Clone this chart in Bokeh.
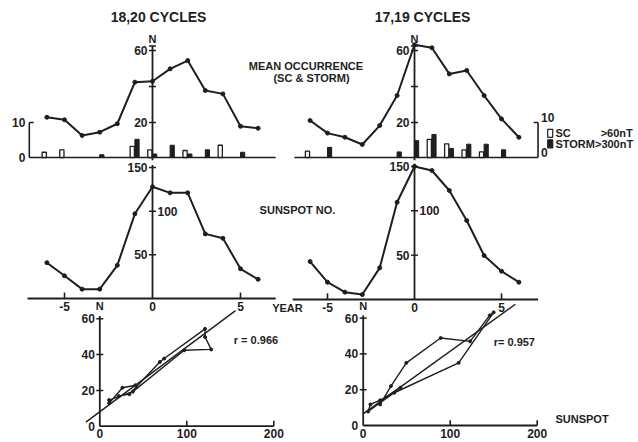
import numpy as np
from bokeh.plotting import figure
from bokeh.models import Range1d, Label
from bokeh.embed import file_html
from bokeh.resources import INLINE
from bokeh.core.properties import value

W, H = 638, 442
INK = "#1e1e1e"
FONT_NAME = "Liberation Sans"
FONT = value(FONT_NAME)

# ---------------- data ----------------
years = [-6, -5, -4, -3, -2, -1, 0, 1, 2, 3, 4, 5, 6]

# 18,20 cycles
n_1820 = [22.9, 21.5, 12.8, 14.6, 19.3, 42.4, 42.9, 49.8, 54.4, 37.8, 35.9, 17.9, 16.8]
ssn_1820 = [41, 26, 10.7, 10.7, 38, 97, 128, 121, 121, 74, 69, 34, 22]
sc_1820 = [1.5, 2.2, 0, 0, 0, 3.2, 2.2, 0, 2.0, 0, 3.5, 0, 0]
storm_1820 = [0, 0, 0, 0.8, 0, 5.2, 1.0, 3.5, 1.0, 2.2, 0, 1.5, 0]
reg_1820 = [0.362, 8.1]      # slope, intercept of the drawn regression line

# 17,19 cycles
n_1719 = [21.1, 14.1, 11.8, 7.8, 18.3, 35.0, 63.2, 61.5, 47.0, 48.9, 35.0, 22.0, 11.8]
ssn_1719 = [42.8, 19.5, 8.3, 5.6, 35.7, 109.7, 150, 145.4, 122.9, 89, 49.6, 31.9, 19.5]
sc_1719 = [1.8, 0, 0, 0, 0, 0, 0, 5.2, 3.9, 2.2, 1.6, 0, 0]
storm_1719 = [0, 2.9, 0, 0, 0, 1.6, 4.8, 6.6, 2.6, 3.8, 3.8, 2.2, 0]
reg_1719 = [0.35, 6.5]

titles = ["18,20 CYCLES", "17,19 CYCLES"]
r_labels = ["r = 0.966", "r= 0.957"]

n_ticks = [20, 40, 60]
n_tick_labels = ["20", "", "60"]
ssn_ticks = [50, 100, 150]
ssn_tick_side = ["left", "right", "left"]
year_ticks = [-5, 0, 5]
bar_ticks = [0, 10]
sc_x_ticks = [0, 100, 200]
sc_y_ticks = [0, 20, 40, 60]

# ---------------- figure ----------------
p = figure(width=W, height=H, x_range=Range1d(0, W), y_range=Range1d(0, H),
           x_axis_type=None, y_axis_type=None, toolbar_location=None,
           output_backend="svg", min_border=0, outline_line_color=None,
           background_fill_color="white", border_fill_color="white")


def xr(a, b):
    return Range1d(start=-a / b, end=(W - a) / b)


def yr(a, b):
    return Range1d(start=(a - H) / b, end=a / b)


p.extra_x_ranges = {
    "yrL": xr(152, 17.6), "yrR": xr(414, 17.4),
    "sxL": xr(99.3, 0.87), "sxR": xr(362.7, 0.87),
}
p.extra_y_ranges = {
    "n": yr(158, 1.8), "bar": yr(157, 3.5),
    "sL": yr(298, 0.873), "sR": yr(299, 0.887),
    "syL": yr(425.7, 1.79), "syR": yr(425, 1.79),
}

TXT = dict(text_font=FONT, text_font_style="bold", text_color=INK)


def txt(x, y, t, xn, yn, size="12px", align="center", base="middle", dx=0, dy=0):
    p.text(x=x, y=y, text=t, x_range_name=xn, y_range_name=yn,
           text_font_size=size, text_align=align, text_baseline=base,
           x_offset=dx, y_offset=dy, **TXT)


def draw_cycle(xn, sn, n_vals, s_vals, sc_vals, st_vals, lo, hi, bar_x, bar_dir):
    # ---- top panel: N curve + bars
    p.segment(x0=[lo], y0=[0], x1=[hi], y1=[0], x_range_name=xn, y_range_name="bar",
              line_color=INK, line_width=1.6)
    p.segment(x0=[bar_x], y0=[0], x1=[bar_x], y1=[10], x_range_name=xn, y_range_name="bar",
              line_color=INK, line_width=1.6)
    p.segment(x0=[bar_x], y0=[10], x1=[bar_x + 0.25 * bar_dir], y1=[10], x_range_name=xn,
              y_range_name="bar", line_color=INK, line_width=1.6)
    if bar_dir > 0:
        txt([bar_x] * 2, bar_ticks, [str(t) for t in bar_ticks], xn, "bar", align="right", dx=-4)
    else:
        txt([bar_x] * 2, bar_ticks, [str(t) for t in bar_ticks], xn, "bar", align="left", dx=3,
            dy=-5)

    scx = [y - 0.15 for y, v in zip(years, sc_vals) if v > 0]
    scv = [v for v in sc_vals if v > 0]
    stx = [y + 0.12 for y, v in zip(years, st_vals) if v > 0]
    stv = [v for v in st_vals if v > 0]
    p.vbar(x=scx, top=scv, bottom=0, width=0.24, x_range_name=xn, y_range_name="bar",
           fill_color="white", line_color=INK, line_width=1.3)
    p.vbar(x=stx, top=stv, bottom=0, width=0.24, x_range_name=xn, y_range_name="bar",
           fill_color=INK, line_color=INK, line_width=1.0)

    p.segment(x0=[0], y0=[-1], x1=[0], y1=[62.5], x_range_name=xn, y_range_name="n",
              line_color=INK, line_width=1.8)
    p.scatter(x=[0] * 3, y=n_ticks, marker="dash", size=7, line_color=INK, line_width=1.5,
              x_range_name=xn, y_range_name="n")
    p.scatter(x=[0], y=[62.5], marker="dash", size=7, line_color=INK, line_width=1.5,
              x_range_name=xn, y_range_name="n")
    txt([0] * 3, n_ticks, n_tick_labels, xn, "n", align="right", dx=-5)
    txt([0], [66.5], ["N"], xn, "n", size="11px")

    p.line(years, n_vals, x_range_name=xn, y_range_name="n", line_color=INK, line_width=2)
    p.scatter(years, n_vals, x_range_name=xn, y_range_name="n", size=4, color=INK)

    # ---- middle panel: sunspot
    p.segment(x0=[lo - 0.1], y0=[0], x1=[hi], y1=[0], x_range_name=xn, y_range_name=sn,
              line_color=INK, line_width=1.8)
    p.segment(x0=[0], y0=[0], x1=[0], y1=[153], x_range_name=xn, y_range_name=sn,
              line_color=INK, line_width=1.8)
    p.scatter(x=[0] * 3, y=ssn_ticks, marker="dash", size=7, line_color=INK, line_width=1.5,
              x_range_name=xn, y_range_name=sn)
    for t, side in zip(ssn_ticks, ssn_tick_side):
        if side == "left":
            txt([0], [t], [str(t)], xn, sn, align="right", dx=-5)
        else:
            txt([0], [t], [str(t)], xn, sn, align="left", dx=5)
    ticks5 = [t for t in year_ticks if t != 0]
    p.segment(x0=ticks5, y0=[0] * 2, x1=ticks5, y1=[7] * 2, x_range_name=xn, y_range_name=sn,
              line_color=INK, line_width=1.6)
    txt(year_ticks, [0] * 3, [str(t) for t in year_ticks], xn, sn, base="top", dy=3)

    p.line(years, s_vals, x_range_name=xn, y_range_name=sn, line_color=INK, line_width=2)
    p.scatter(years, s_vals, x_range_name=xn, y_range_name=sn, size=4, color=INK)


def draw_scatter(xn, yn, s_vals, n_vals, reg, lo, hi, r_label, r_x, r_y):
    # axes
    p.segment(x0=[0], y0=[0], x1=[0], y1=[61.5], x_range_name=xn, y_range_name=yn,
              line_color=INK, line_width=1.8)
    p.segment(x0=[0], y0=[0], x1=[200], y1=[0], x_range_name=xn, y_range_name=yn,
              line_color=INK, line_width=1.8)
    p.scatter(x=[0] * 3, y=sc_y_ticks[1:], marker="dash", size=7, line_color=INK,
              line_width=1.5, x_range_name=xn, y_range_name=yn)
    p.segment(x0=sc_x_ticks[1:], y0=[0, 0], x1=sc_x_ticks[1:], y1=[3, 3], x_range_name=xn,
              y_range_name=yn, line_color=INK, line_width=1.6)
    txt([0] * 4, sc_y_ticks, [str(t) for t in sc_y_ticks], xn, yn, align="right", dx=-5)
    txt(sc_x_ticks, [0] * 3, [str(t) for t in sc_x_ticks], xn, yn, base="top", dy=3)
    txt([0], [67], ["N"], xn, yn, size="11px")

    # regression line
    k, c = reg
    xs = [lo, hi]
    p.line(xs, [c + k * x for x in xs], x_range_name=xn, y_range_name=yn,
           line_color=INK, line_width=1.4)
    # path of yearly points
    p.line(s_vals, n_vals, x_range_name=xn, y_range_name=yn, line_color=INK, line_width=1.4)
    p.scatter(s_vals, n_vals, x_range_name=xn, y_range_name=yn, size=3, color=INK)
    txt([r_x], [r_y], [r_label], xn, yn, align="left", size="11px")


draw_cycle("yrL", "sL", n_1820, ssn_1820, sc_1820, storm_1820, -7.0, 7.0, -7.0, 1)
draw_cycle("yrR", "sR", n_1719, ssn_1719, sc_1719, storm_1719, -6.9, 7.1, 7.1, -1)
draw_scatter("sxL", "syL", ssn_1820, n_1820, reg_1820, -16, 156, r_labels[0], 154, 48)
draw_scatter("sxR", "syR", ssn_1719, n_1719, reg_1719, 0, 175, r_labels[1], 150, 46.5)

# axis names
txt([6.8], [0], ["YEAR"], "yrL", "sL", size="11px", align="left", base="top", dy=3)
txt([221], [0], ["SUNSPOT"], "sxR", "syR", size="11px", align="left", base="bottom", dy=-1)

# legend
p.rect(x=[7.8, 7.8], y=[6.9, 3.9], width=5, height=8, width_units="screen",
       height_units="screen", x_range_name="yrR", y_range_name="bar",
       fill_color=["white", INK], line_color=INK, line_width=1.2)
txt([8.1, 8.1], [6.9, 3.9], ["SC", "STORM>300nT"], "yrR", "bar", size="11px", align="left")
txt([10.7], [6.9], [">60nT"], "yrR", "bar", size="11px", align="left")


def lab(x, y, t, size="11px"):
    p.add_layout(Label(x=x, y=H - y, x_units="screen", y_units="screen", text=t,
                       text_font=FONT_NAME, text_font_style="bold", text_font_size=size,
                       text_color=INK, text_align="center", text_baseline="middle"))


lab(158, 16, titles[0], "14px")
lab(422, 16, titles[1], "14px")
lab(307, 65, "MEAN  OCCURRENCE")
lab(311, 77, "(SC & STORM)")
lab(297, 209, "SUNSPOT NO.")

open("out.html", "w").write(file_html(p, INLINE))
